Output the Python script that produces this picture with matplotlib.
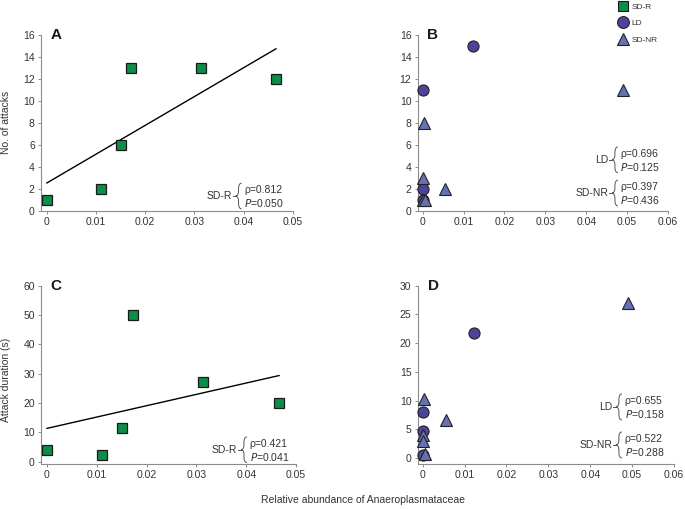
import matplotlib
matplotlib.use("Agg")
import matplotlib.pyplot as plt
import numpy as np
from matplotlib.lines import Line2D
from matplotlib.path import Path
from matplotlib.patches import PathPatch

plt.rcParams['font.family'] = ['Liberation Sans', 'DejaVu Sans']

# SD-R group (panels A and C)
sdr_abund = [0.0, 0.011, 0.015, 0.0172, 0.0313, 0.0466]
sdr_attacks = [1, 2, 6, 13, 13, 12]
sdr_duration = [4.0, 2.1, 11.6, 50.0, 27.2, 20.0]

# LD group (panels B and D)
ld_abund = [0.0122, 0.0, 0.0, 0.0]
ld_attacks = [15, 11, 2, 1]
ld_duration = [21.7, 8.0, 4.7, 0.5]

# SD-NR group (panels B and D)
sdnr_abund = [0.049, 0.0003, 0.0055, 0.0, 0.0, 0.0006]
sdnr_attacks = [11, 8, 2, 3, 1, 1]
sdnr_duration = [27.0, 10.3, 6.6, 4.0, 3.0, 0.7]

# correlation stats printed on the panels
stats_A = [("SD-R", "0.812", "0.050")]
stats_B = [("LD", "0.696", "0.125"), ("SD-NR", "0.397", "0.436")]
stats_C = [("SD-R", "0.421", "0.041")]
stats_D = [("LD", "0.655", "0.158"), ("SD-NR", "0.522", "0.288")]

GREEN = '#0d8c4a'
PURPLE = '#4c449c'
BLUE = '#6571b6'
GREY = '#8c8c8c'
TXT = '#333333'

W, H = 685, 509
fig = plt.figure(figsize=(6.85, 5.09), dpi=100)


def add_ax(left, top, right, bottom):
    return fig.add_axes([left / W, 1 - bottom / H, (right - left) / W, (bottom - top) / H])


axA = add_ax(41, 35, 292.7, 211)
axB = add_ax(417.7, 35, 668, 211)
axC = add_ax(41, 285.7, 296, 464)
axD = add_ax(417.7, 285.7, 674, 464)

sq = dict(marker='s', ms=7, mfc=GREEN, mec='#1a1a1a', mew=0.9, ls='none', clip_on=False, zorder=3)
ci = dict(marker='o', ms=8, mfc=PURPLE, mec='#222222', mew=0.8, ls='none', clip_on=False, zorder=3)
tr = dict(marker='^', ms=8, mfc=BLUE, mec='#222222', mew=0.8, ls='none', clip_on=False, zorder=4)


def fit_line(ax, x, y):
    k, b = np.polyfit(x, y, 1)
    xs = np.array([min(x), max(x)])
    ax.plot(xs, k * xs + b, color='black', lw=1, zorder=2)


def style(ax, xmax, ylim, yticks, letter):
    ax.set_xlim(-0.0012, xmax)
    ax.set_ylim(*ylim)
    ax.set_yticks(yticks)
    ax.set_xticks(np.arange(0, xmax + 1e-9, 0.01))
    ax.xaxis.set_major_formatter(plt.FuncFormatter(lambda v, p: '%g' % round(v, 3)))
    for s in ['top', 'right']:
        ax.spines[s].set_visible(False)
    for s in ['left', 'bottom']:
        ax.spines[s].set_color(GREY)
        ax.spines[s].set_linewidth(0.8)
    ax.tick_params(length=2.5, width=0.7, color=GREY, labelsize=7.5, labelcolor=TXT, pad=2)
    ax.text(0.06, 1.0, letter, transform=ax.transAxes, fontsize=11, fontweight='bold',
            ha='center', va='center', color='#1a1a1a')


def brace(ax, bx, ymid, half, label, rho, p):
    t = ax.transAxes
    dx = 0.012
    dy = 0.03
    top, bot = ymid + half, ymid - half
    verts = [(bx + dx, top), (bx, top), (bx, top - dy),
             (bx, ymid + dy), (bx, ymid), (bx - dx, ymid),
             (bx, ymid), (bx, ymid - dy),
             (bx, bot + dy), (bx, bot), (bx + dx, bot)]
    codes = [Path.MOVETO, Path.CURVE3, Path.CURVE3,
             Path.LINETO, Path.CURVE3, Path.CURVE3,
             Path.CURVE3, Path.CURVE3,
             Path.LINETO, Path.CURVE3, Path.CURVE3]
    ax.add_patch(PathPatch(Path(verts, codes), fc='none', ec='#555555', lw=0.7,
                           transform=t, clip_on=False))
    ax.plot([bx - dx - 0.012, bx - dx], [ymid, ymid], color='#555555', lw=0.7,
            transform=t, clip_on=False)
    ax.text(bx - dx - 0.014, ymid, label, transform=t, ha='right', va='center',
            fontsize=7.5, color=TXT)
    ax.text(bx + 0.022, ymid + half * 0.45, '\u03c1=' + rho, transform=t, ha='left',
            va='center', fontsize=7.5, color=TXT)
    ax.text(bx + 0.022, ymid - half * 0.55, '$\\it{P}$=' + p, transform=t, ha='left',
            va='center', fontsize=7.5, color=TXT)


# A
axA.plot(sdr_abund, sdr_attacks, **sq)
fit_line(axA, sdr_abund, sdr_attacks)
style(axA, 0.05, (0, 16), range(0, 17, 2), 'A')
brace(axA, 0.785, 0.085, 0.073, *stats_A[0])

# B
axB.plot(ld_abund, ld_attacks, **ci)
axB.plot(sdnr_abund, sdnr_attacks, **tr)
style(axB, 0.06, (0, 16), range(0, 17, 2), 'B')
brace(axB, 0.788, 0.291, 0.073, *stats_B[0])
brace(axB, 0.788, 0.102, 0.073, *stats_B[1])

# C
axC.plot(sdr_abund, sdr_duration, **sq)
fit_line(axC, sdr_abund, sdr_duration)
style(axC, 0.05, (-0.8, 60), range(0, 61, 10), 'C')
brace(axC, 0.796, 0.08, 0.072, *stats_C[0])

# D
axD.plot(ld_abund, ld_duration, **ci)
axD.plot(sdnr_abund, sdnr_duration, **tr)
style(axD, 0.06, (-1, 30), range(0, 31, 5), 'D')
brace(axD, 0.785, 0.32, 0.073, *stats_D[0])
brace(axD, 0.785, 0.107, 0.073, *stats_D[1])

fig.text(6 / W, 1 - 122 / H, 'No. of attacks', rotation=90, ha='center', va='center',
         fontsize=7.5, color=TXT)
fig.text(6 / W, 1 - 380 / H, 'Attack duration (s)', rotation=90, ha='center', va='center',
         fontsize=7.5, color=TXT)
fig.text(363 / W, 1 - 500 / H, 'Relative abundance of Anaeroplasmataceae', ha='center',
         va='center', fontsize=7.5, color=TXT)

handles = [Line2D([], [], marker='s', ms=7.5, mfc=GREEN, mec='#1a1a1a', mew=0.8, ls='none'),
           Line2D([], [], marker='o', ms=8.5, mfc=PURPLE, mec='#222222', mew=0.8, ls='none'),
           Line2D([], [], marker='^', ms=8.5, mfc=BLUE, mec='#222222', mew=0.8, ls='none')]
leg = fig.legend(handles, ['SD-R', 'LD', 'SD-NR'], loc='upper left',
                 bbox_to_anchor=(613 / W, 1 + 3 / H), frameon=False, fontsize=6,
                 handlelength=1.0, handletextpad=0.5, labelspacing=1.05, borderpad=0.2)
for t in leg.get_texts():
    t.set_color(TXT)

fig.savefig('out.png', dpi=100)
